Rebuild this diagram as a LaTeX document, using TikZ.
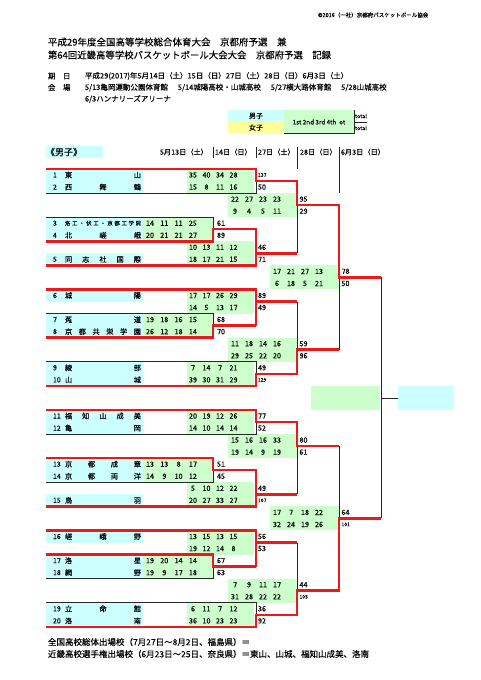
\documentclass[tikz,border=0pt]{standalone}
\usepackage{fontspec}
\setmainfont{Noto Sans CJK JP}[FakeBold=0.1]
\definecolor{cyanf}{RGB}{204,255,255}
\definecolor{greenf}{RGB}{204,255,204}
\definecolor{yellowf}{RGB}{255,255,153}
\definecolor{winred}{RGB}{235,25,25}
\newcommand\fsz[1]{\fontsize{#1}{#1}\selectfont}
\newcommand\tm[3]{%
  \node[numt] (n#2) at (53,#1) {#2};
  \node[namet] (t#2) at (103,#1) {\hbox to 76pt{#3}};}
\newcommand\qs[7]{%
  \node[sc] (s#3a) at (#1,#3) {#4};
  \node[sc] (s#3b) at ({#1+#2},#3) {#5};
  \node[sc] (s#3c) at ({#1+2*#2},#3) {#6};
  \node[sc] (s#3d) at ({#1+3*#2},#3) {#7};}
\newcommand\stot[3]{\node[totn] (tot#2) at (#1,#2) {#3};}
\newcommand\stots[3]{\node[tots] (tot#2) at (#1,#2) {#3};}
\begin{document}
\begin{tikzpicture}[x=1pt,y=-1pt,
  every node/.style={inner sep=0pt,outer sep=0pt},
  blk/.style={draw=black!85,line width=0.8pt},
  win/.style={draw=winred,line width=2.5pt},
  numt/.style={font=\fsz{7},anchor=west},
  namet/.style={font=\fsz{7.2}},
  sc/.style={font=\fsz{7.2}},
  totn/.style={font=\fsz{7.2},anchor=west},
  tots/.style={font=\fsz{5},anchor=west},
  hd/.style={anchor=west}]
\useasboundingbox (0,0) rectangle (481,680);
\fill[white] (0,0) rectangle (481,680);

% ---------- header ----------
\node[hd,font=\fsz{5.5}] (copy) at (318,15) {©2016（一社）京都府バスケットボール協会};
\node[hd,font=\fsz{9.5}] (title1) at (48,42) {平成29年度全国高等学校総合体育大会　京都府予選　兼};
\node[hd,font=\fsz{9.4}] (title2) at (48,55) {第64回近畿高等学校バスケットボール大会大会　京都府予選　記録};
\node[hd,font=\fsz{7.5}] (kijitsu) at (48,76) {期　日};
\node[hd,font=\fsz{7.5}] (dates) at (85,76) {平成29(2017)年5月14日（土）15日（日）27日（土）28日（日）6月3日（土）};
\node[hd,font=\fsz{7.5}] (kaijo) at (48,87.5) {会　場};
\node[hd,font=\fsz{7.5}] (venue1) at (85,87.5) {5/13亀岡運動公園体育館\hspace{10pt}5/14城陽高校・山城高校\hspace{10pt}5/27横大路体育館\hspace{10pt}5/28山城高校};
\node[hd,font=\fsz{7.5}] (venue2) at (85,99) {6/3ハンナリーズアリーナ};

% legend
\fill[cyanf] (228,110) rectangle (284,122);
\fill[yellowf] (228,122) rectangle (284,133);
\fill[greenf] (284,110) rectangle (354,133);
\draw[blk] (284,133) -- (354,133) -- (354,110);
\draw[blk] (354,122) -- (367,122);
\node[font=\fsz{7}] (lgm) at (256,116) {男子};
\node[font=\fsz{7}] (lgf) at (256,127.5) {女子};
\node[font=\fsz{6.3}] (lgq) at (319,122) {1st 2nd 3rd 4th\ \ ot};
\node[hd,font=\fsz{5.5}] (lgt1) at (355,116) {total};
\node[hd,font=\fsz{5.5}] (lgt2) at (355,128) {total};

% section title and dates
\fill[cyanf] (46,146) rectangle (103,157.5);
\node[hd,font=\fsz{9}] (boys) at (46,152) {《男子》};
\node[hd,font=\fsz{7.2}] (d1) at (160,152) {5月13日（土）};
\node[hd,font=\fsz{7.2}] (d2) at (215,152) {14日（日）};
\node[hd,font=\fsz{7.2}] (d3) at (258,152) {27日（土）};
\node[hd,font=\fsz{7.2}] (d4) at (300,152) {28日（日）};
\node[hd,font=\fsz{7.2}] (d5) at (341,152) {6月3日（日）};
\draw[blk] (213,147) -- (213,158);
\draw[blk] (256,147) -- (256,158);
\draw[blk] (297,147) -- (297,169);
\draw[blk] (339,147) -- (339,193);

% footer
\node[hd,font=\fsz{8.5}] (foot1) at (48,642) {全国高校総体出場校（7月27日～8月2日、福島県）＝};
\node[hd,font=\fsz{8.5}] (foot2) at (48,654) {近畿高校選手権出場校（6月23日～25日、奈良県）＝東山、山城、福知山成美、洛南};

% ---------- bracket ----------
\begin{scope}[y=-12.05pt,yshift=-175pt]
% fills
\foreach \k in {0,1,4,5,7,10,12,13,16,17,20,21,24,25,27,30,32,33,36,37}
  \fill[cyanf] (46,\k-0.5) rectangle (143,\k+0.5);
\foreach \k in {4,12,24,32} \fill[greenf] (143,\k-0.5) rectangle (213,\k+1.5);
\foreach \k in {0,6,10,16,20,26,30,36} \fill[greenf] (187,\k-0.5) rectangle (254,\k+1.5);
\foreach \k in {2,14,22,34} \fill[greenf] (228,\k-0.5) rectangle (297,\k+1.5);
\foreach \k in {8,28} \fill[greenf] (270,\k-0.5) rectangle (339,\k+1.5);
\fill[greenf] (311,17.5) rectangle (380,19.5);
\fill[cyanf] (398,17.5) rectangle (454,19.5);

% black bracket lines
\draw[blk] (46,-0.5) -- (256,-0.5) -- (256,1.5) -- (46,1.5);
\draw[blk] (256,0.5) -- (297,0.5);
\draw[blk] (46,3.5) -- (213,3.5) -- (213,5.5) -- (46,5.5);
\draw[blk] (213,4.5) -- (256,4.5);
\draw[blk] (256,4.5) -- (256,7.5) -- (46,7.5);
\draw[blk] (256,6.5) -- (297,6.5);
\draw[blk] (297,0.5) -- (297,6.5);
\draw[blk] (297,2.5) -- (339,2.5);
\draw[blk] (46,9.5) -- (256,9.5) -- (256,12.5);
\draw[blk] (256,10.5) -- (297,10.5);
\draw[blk] (46,11.5) -- (213,11.5) -- (213,13.5) -- (46,13.5);
\draw[blk] (213,12.5) -- (256,12.5);
\draw[blk] (46,15.5) -- (256,15.5) -- (256,17.5) -- (46,17.5);
\draw[blk] (256,16.5) -- (297,16.5);
\draw[blk] (297,10.5) -- (297,16.5);
\draw[blk] (297,14.5) -- (339,14.5);
\draw[blk] (339,2.5) -- (339,14.5);
\draw[blk] (339,8.5) -- (381,8.5);
\draw[blk] (381,8.5) -- (381,28.5);
\draw[blk] (381,18.5) -- (398,18.5);
\draw[blk] (46,19.5) -- (256,19.5) -- (256,21.5) -- (46,21.5);
\draw[blk] (256,20.5) -- (297,20.5);
\draw[blk] (46,23.5) -- (213,23.5) -- (213,25.5) -- (46,25.5);
\draw[blk] (213,24.5) -- (256,24.5);
\draw[blk] (256,24.5) -- (256,27.5) -- (46,27.5);
\draw[blk] (256,26.5) -- (297,26.5);
\draw[blk] (297,20.5) -- (297,26.5);
\draw[blk] (297,22.5) -- (339,22.5);
\draw[blk] (46,29.5) -- (256,29.5) -- (256,32.5);
\draw[blk] (256,30.5) -- (297,30.5);
\draw[blk] (46,31.5) -- (213,31.5) -- (213,33.5) -- (46,33.5);
\draw[blk] (213,32.5) -- (256,32.5);
\draw[blk] (46,35.5) -- (256,35.5) -- (256,37.5) -- (46,37.5);
\draw[blk] (256,36.5) -- (297,36.5);
\draw[blk] (297,30.5) -- (297,36.5);
\draw[blk] (297,34.5) -- (339,34.5);
\draw[blk] (339,22.5) -- (339,34.5);
\draw[blk] (339,28.5) -- (381,28.5);

% winners' paths
\draw[win] (46,-0.5) -- (256,-0.5) -- (256,0.5) -- (297,0.5) -- (297,2.5) -- (339,2.5) -- (339,8.5) -- (381,8.5);
\draw[win] (46,5.5) -- (213,5.5) -- (213,4.5) -- (256,4.5) -- (256,7.5);
\draw[win] (46,7.5) -- (256,7.5) -- (256,6.5) -- (297,6.5);
\draw[win] (46,9.5) -- (256,9.5) -- (256,12.5);
\draw[win] (256,10.5) -- (297,10.5);
\draw[win] (46,13.5) -- (213,13.5) -- (213,12.5) -- (256,12.5);
\draw[win] (46,17.5) -- (256,17.5) -- (256,16.5) -- (297,16.5) -- (297,14.5) -- (339,14.5);
\draw[win] (46,19.5) -- (256,19.5) -- (256,20.5) -- (297,20.5) -- (297,22.5) -- (339,22.5);
\draw[win] (46,23.5) -- (213,23.5) -- (213,24.5) -- (256,24.5) -- (256,27.5);
\draw[win] (46,27.5) -- (256,27.5) -- (256,26.5) -- (297,26.5);
\draw[win] (46,29.5) -- (256,29.5) -- (256,32.5);
\draw[win] (256,30.5) -- (297,30.5);
\draw[win] (46,31.5) -- (213,31.5) -- (213,32.5) -- (256,32.5);
\draw[win] (46,37.5) -- (256,37.5) -- (256,36.5) -- (297,36.5) -- (297,34.5) -- (339,34.5) -- (339,28.5) -- (381,28.5);

% teams
\tm{0}{1}{東\hfill 山}
\tm{1}{2}{西\hfill 舞\hfill 鶴}
\tm{4}{3}{\fsz{5.4}洛\hfill 工\hfill ・\hfill 伏\hfill 工\hfill ・\hfill 京\hfill 都\hfill 工\hfill 学\hfill 院}
\tm{5}{4}{北\hfill 嵯\hfill 峨}
\tm{7}{5}{同\hfill 志\hfill 社\hfill 国\hfill 際}
\tm{10}{6}{城\hfill 陽}
\tm{12}{7}{菟\hfill 道}
\tm{13}{8}{京\hfill 都\hfill 共\hfill 栄\hfill 学\hfill 園}
\tm{16}{9}{綾\hfill 部}
\tm{17}{10}{山\hfill 城}
\tm{20}{11}{福\hfill 知\hfill 山\hfill 成\hfill 美}
\tm{21}{12}{亀\hfill 岡}
\tm{24}{13}{京\hfill 都\hfill 成\hfill 章}
\tm{25}{14}{京\hfill 都\hfill 両\hfill 洋}
\tm{27}{15}{鳥\hfill 羽}
\tm{30}{16}{嵯\hfill 峨\hfill 野}
\tm{32}{17}{洛\hfill 星}
\tm{33}{18}{網\hfill 野}
\tm{36}{19}{立\hfill 命\hfill 館}
\tm{37}{20}{洛\hfill 南}

% 5/13 scores
\qs{150}{14.3}{4}{14}{11}{11}{25} \stot{217}{4}{61}
\qs{150}{14.3}{5}{20}{21}{21}{27} \stot{217}{5}{89}
\qs{150}{14.3}{12}{19}{18}{16}{15} \stot{217}{12}{68}
\qs{150}{14.3}{13}{26}{12}{18}{14} \stot{217}{13}{70}
\qs{150}{14.3}{24}{13}{13}{8}{17} \stot{217}{24}{51}
\qs{150}{14.3}{25}{14}{9}{10}{12} \stot{217}{25}{45}
\qs{150}{14.3}{32}{19}{20}{14}{14} \stot{217}{32}{67}
\qs{150}{14.3}{33}{19}{9}{17}{18} \stot{217}{33}{63}
% 5/14 scores
\qs{193}{13.5}{0}{35}{40}{34}{28} \stots{258}{0}{137}
\qs{193}{13.5}{1}{15}{8}{11}{16} \stot{258}{1}{50}
\qs{193}{13.5}{6}{10}{13}{11}{12} \stot{258}{6}{46}
\qs{193}{13.5}{7}{18}{17}{21}{15} \stot{258}{7}{71}
\qs{193}{13.5}{10}{17}{17}{26}{29} \stot{258}{10}{89}
\qs{193}{13.5}{11}{14}{5}{13}{17} \stot{258}{11}{49}
\qs{193}{13.5}{16}{7}{14}{7}{21} \stot{258}{16}{49}
\qs{193}{13.5}{17}{39}{30}{31}{29} \stots{258}{17}{129}
\qs{193}{13.5}{20}{20}{19}{12}{26} \stot{258}{20}{77}
\qs{193}{13.5}{21}{14}{10}{14}{14} \stot{258}{21}{52}
\qs{193}{13.5}{26}{5}{10}{12}{22} \stot{258}{26}{49}
\qs{193}{13.5}{27}{20}{27}{33}{27} \stots{258}{27}{107}
\qs{193}{13.5}{30}{13}{15}{13}{15} \stot{258}{30}{56}
\qs{193}{13.5}{31}{19}{12}{14}{8} \stot{258}{31}{53}
\qs{193}{13.5}{36}{6}{11}{7}{12} \stot{258}{36}{36}
\qs{193}{13.5}{37}{36}{10}{23}{23} \stot{258}{37}{92}
% 5/27 scores
\qs{235}{14}{2}{22}{27}{23}{23} \stot{299.5}{2}{95}
\qs{235}{14}{3}{9}{4}{5}{11} \stot{299.5}{3}{29}
\qs{235}{14}{14}{11}{18}{14}{16} \stot{299.5}{14}{59}
\qs{235}{14}{15}{29}{25}{22}{20} \stot{299.5}{15}{96}
\qs{235}{14}{22}{15}{16}{16}{33} \stot{299.5}{22}{80}
\qs{235}{14}{23}{19}{14}{9}{19} \stot{299.5}{23}{61}
\qs{235}{14}{34}{7}{9}{11}{17} \stot{299.5}{34}{44}
\qs{235}{14}{35}{31}{28}{22}{22} \stots{299.5}{35}{103}
% 5/28 scores
\qs{277}{14}{8}{17}{21}{27}{13} \stot{341.5}{8}{78}
\qs{277}{14}{9}{6}{18}{5}{21} \stot{341.5}{9}{50}
\qs{277}{14}{28}{17}{7}{18}{22} \stot{341.5}{28}{64}
\qs{277}{14}{29}{32}{24}{19}{26} \stots{341.5}{29}{101}
\end{scope}
\end{tikzpicture}
\end{document}
